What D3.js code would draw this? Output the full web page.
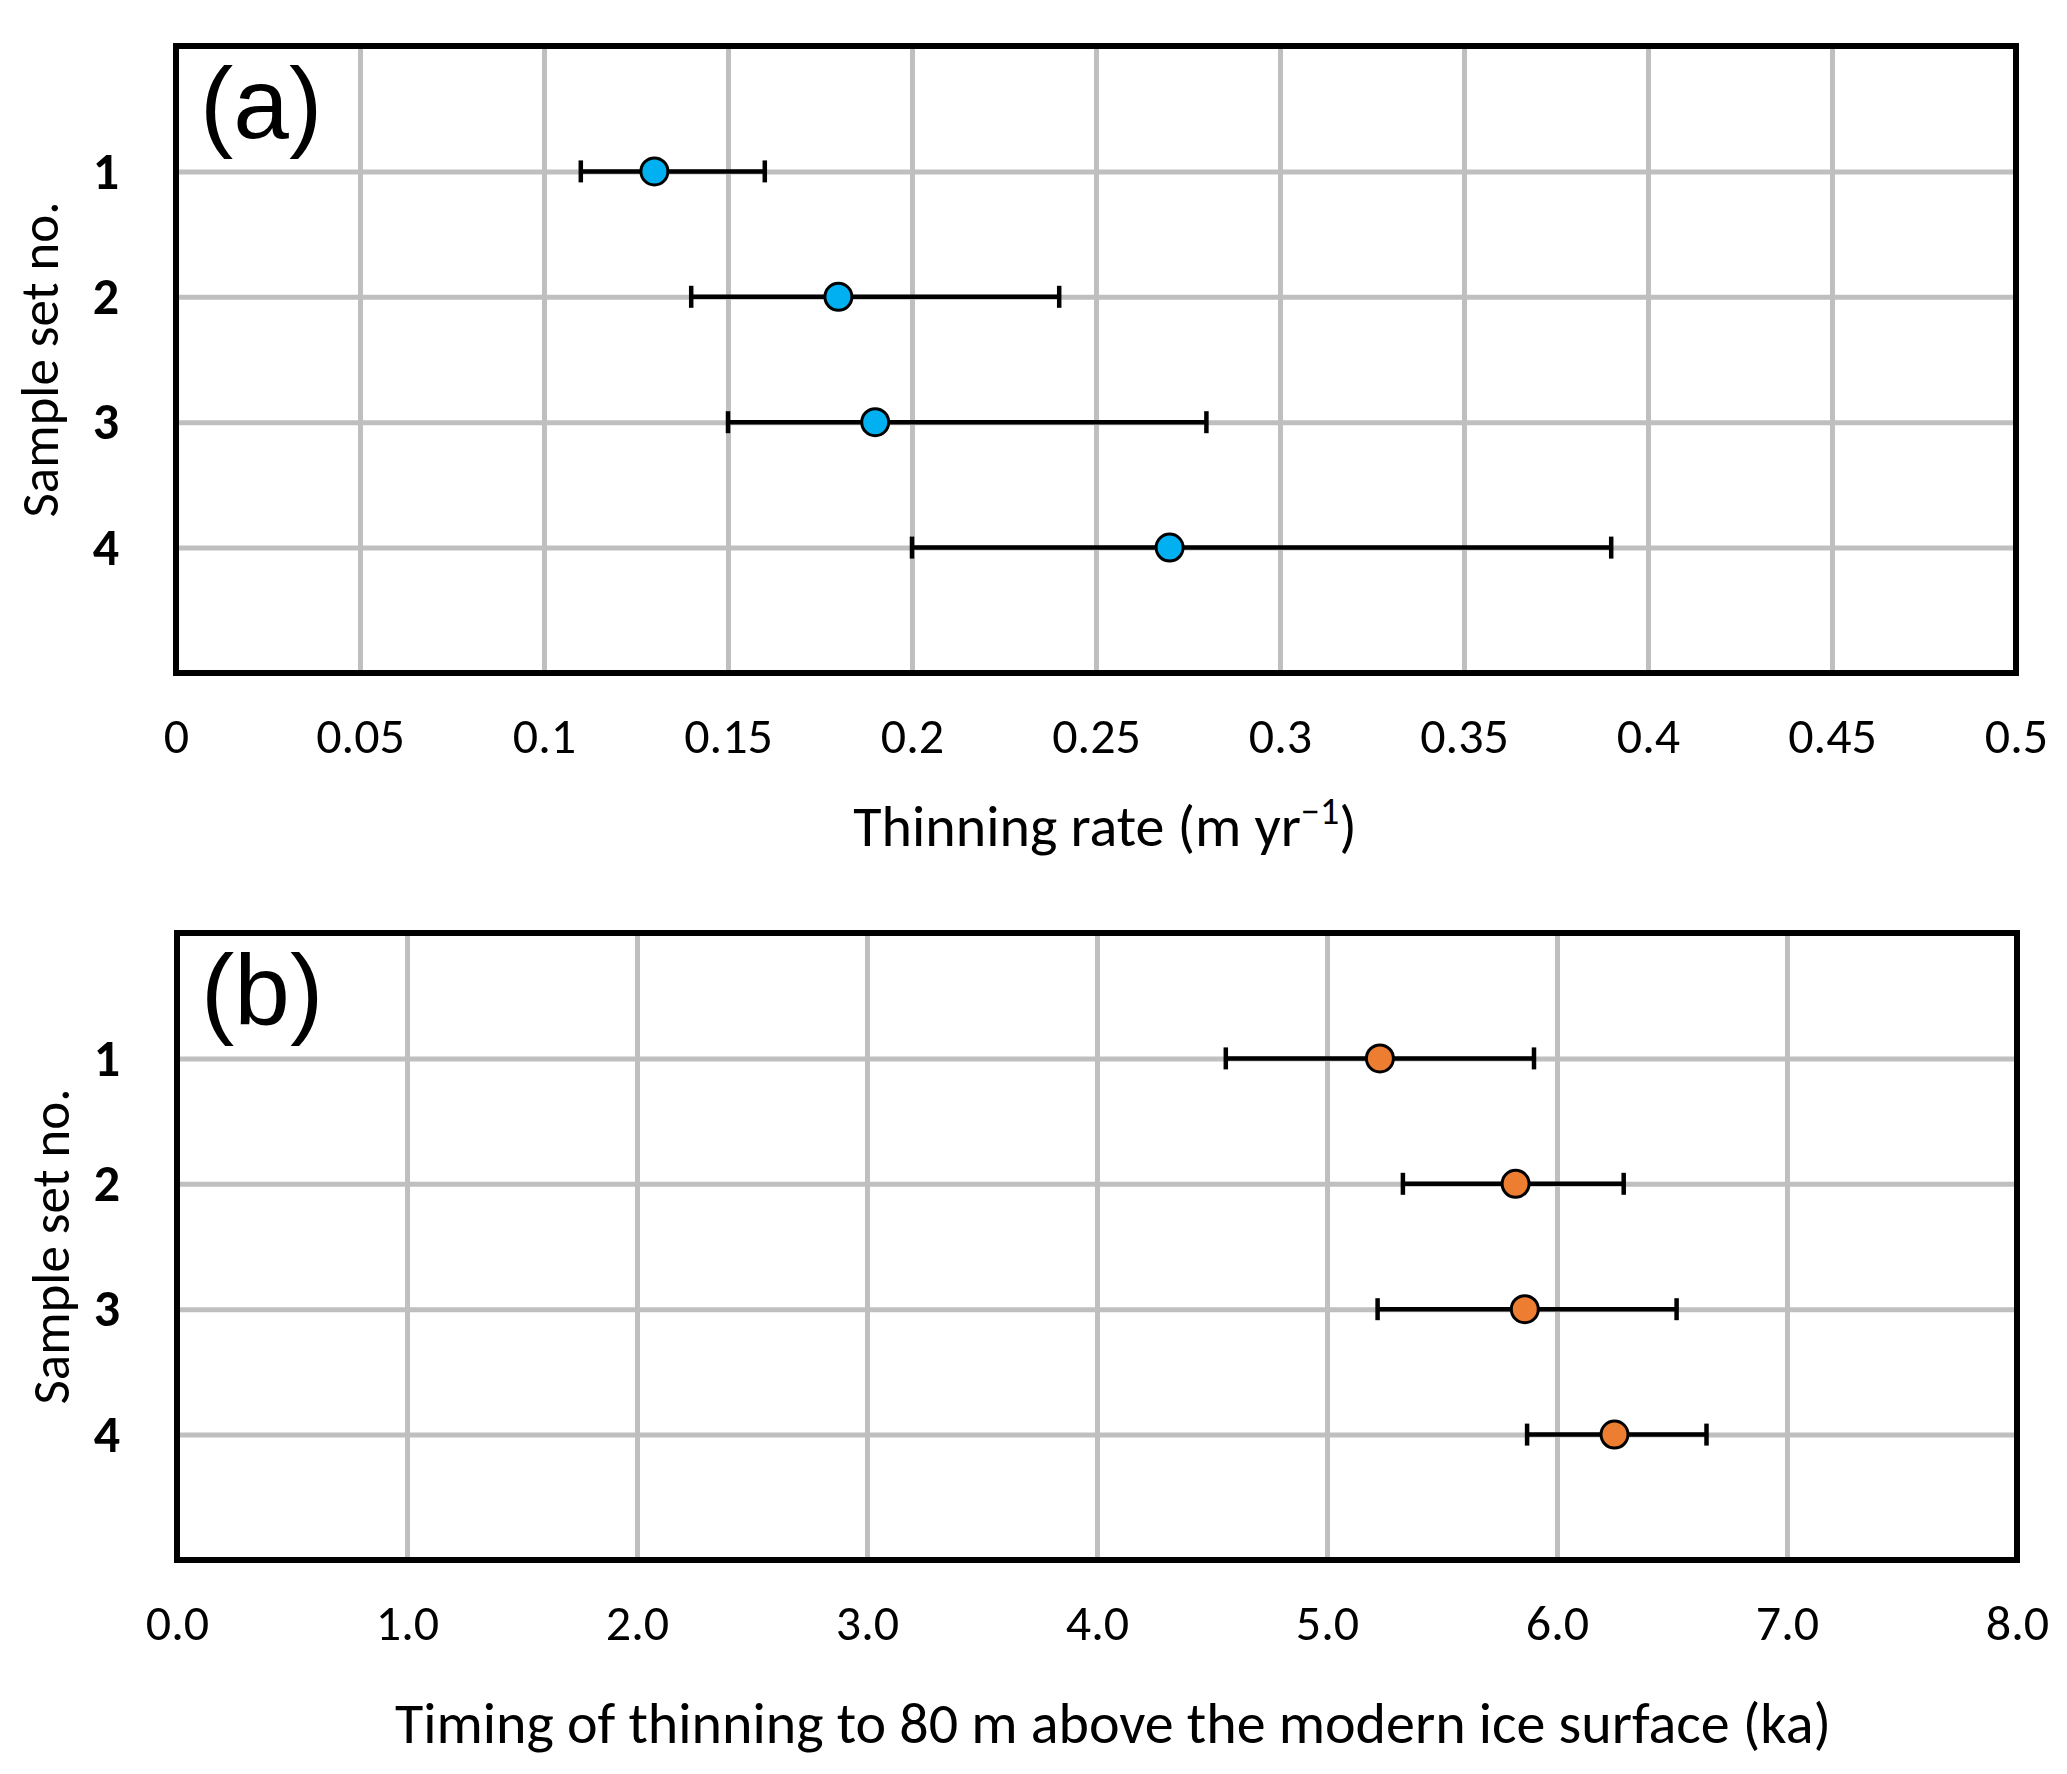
<!DOCTYPE html>
<html>
<head>
<meta charset="utf-8">
<script src="https://cdn.jsdelivr.net/npm/d3@7"></script>
<style>
  body { margin: 0; background: #fff; }
  svg text { font-family: Carlito, Calibri, Lato, sans-serif; fill: #000; }
</style>
</head>
<body>
<svg id="chart" width="2067" height="1774"></svg>
<script>
// sample sets, top to bottom
const sampleSets = [1, 2, 3, 4];

// (a) thinning rate (m/yr): point, lower and upper error bar ends
const rateValues = [0.13, 0.18, 0.19, 0.27];
const rateLow = [0.11, 0.14, 0.15, 0.20];
const rateHigh = [0.16, 0.24, 0.28, 0.39];
const rateTicks = [0, 0.05, 0.1, 0.15, 0.2, 0.25, 0.3, 0.35, 0.4, 0.45, 0.5];
const rateTickLabels = ["0", "0.05", "0.1", "0.15", "0.2", "0.25", "0.3", "0.35", "0.4", "0.45", "0.5"];

// (b) timing of thinning to 80 m above modern ice surface (ka)
const timingValues = [5.23, 5.82, 5.86, 6.25];
const timingLow = [4.56, 5.33, 5.22, 5.87];
const timingHigh = [5.90, 6.29, 6.52, 6.65];
const timingTicks = [0, 1, 2, 3, 4, 5, 6, 7, 8];
const timingTickLabels = ["0.0", "1.0", "2.0", "3.0", "4.0", "5.0", "6.0", "7.0", "8.0"];

const svg = d3.select("#chart");
svg.append("rect").attr("width", 2067).attr("height", 1774).attr("fill", "#fff");

function drawPanel(p) {
    const x = d3.scaleLinear().domain([p.ticks[0], p.ticks[p.ticks.length - 1]]).range([p.left, p.right]);
    const y = d3.scaleLinear().domain([0, 5]).range([p.top, p.bottom]);
    const h = p.bottom - p.top;
    const w = p.right - p.left;

    // vertical grid
    svg.append("g")
        .attr("transform", `translate(0,${p.bottom})`)
        .call(d3.axisBottom(x).tickValues(p.ticks.slice(1, -1)).tickSize(-h).tickFormat(""))
        .call(g => g.select(".domain").remove())
        .call(g => g.selectAll("line").attr("stroke", "#bfbfbf").attr("stroke-width", 5));

    // horizontal grid at each sample set
    svg.append("g")
        .attr("transform", `translate(${p.left},0)`)
        .call(d3.axisLeft(y).tickValues(sampleSets).tickSize(-w).tickFormat(""))
        .call(g => g.select(".domain").remove())
        .call(g => g.selectAll("line").attr("stroke", "#bfbfbf").attr("stroke-width", 5));

    // x tick labels
    svg.append("g")
        .attr("transform", `translate(0,${p.bottom})`)
        .call(d3.axisBottom(x).tickValues(p.ticks).tickSize(0).tickPadding(p.tickPad)
            .tickFormat((d, i) => p.tickLabels[i]))
        .call(g => g.select(".domain").remove())
        .call(g => g.selectAll("text").attr("font-size", 50).attr("font-family", null));

    // y tick labels (bold)
    svg.append("g")
        .attr("transform", `translate(${p.left},0)`)
        .call(d3.axisLeft(y).tickValues(sampleSets).tickSize(0).tickPadding(57).tickFormat(d3.format("d")))
        .call(g => g.select(".domain").remove())
        .call(g => g.selectAll("text").attr("font-size", 52).attr("font-weight", "bold").attr("font-family", null));

    // error bars
    const rows = sampleSets.map((s, i) => ({ s, v: p.values[i], lo: p.low[i], hi: p.high[i] }));
    const eb = svg.append("g").attr("stroke", "#000").attr("stroke-width", 4.5);
    eb.selectAll(".bar").data(rows).enter().append("line")
        .attr("x1", d => x(d.lo)).attr("x2", d => x(d.hi))
        .attr("y1", d => y(d.s)).attr("y2", d => y(d.s));
    eb.selectAll(".capl").data(rows).enter().append("line")
        .attr("x1", d => x(d.lo)).attr("x2", d => x(d.lo))
        .attr("y1", d => y(d.s) - 11).attr("y2", d => y(d.s) + 11);
    eb.selectAll(".caph").data(rows).enter().append("line")
        .attr("x1", d => x(d.hi)).attr("x2", d => x(d.hi))
        .attr("y1", d => y(d.s) - 11).attr("y2", d => y(d.s) + 11);

    // points
    svg.append("g").selectAll("circle").data(rows).enter().append("circle")
        .attr("cx", d => x(d.v)).attr("cy", d => y(d.s)).attr("r", 13.5)
        .attr("fill", p.color).attr("stroke", "#000").attr("stroke-width", 3);

    // frame
    svg.append("rect")
        .attr("x", p.left).attr("y", p.top).attr("width", w).attr("height", h)
        .attr("fill", "none").attr("stroke", "#000").attr("stroke-width", 6);

    // panel letter
    svg.append("text")
        .attr("x", p.left + 24).attr("y", p.top + 92)
        .style("font-family", "'Liberation Sans', Arial, sans-serif")
        .attr("font-size", 100)
        .text(p.letter);

    // y title
    svg.append("text")
        .attr("transform", `translate(${p.yTitleX},${(p.top + p.bottom) / 2}) rotate(-90)`)
        .attr("text-anchor", "middle")
        .attr("font-size", 53)
        .text("Sample set no.");

    // x title
    const t = svg.append("text")
        .attr("x", p.titleX).attr("y", p.bottom + p.titleOffset)
        .attr("text-anchor", "middle")
        .attr("font-size", 58);
    p.title(t);
}

drawPanel({
    top: 46, bottom: 673, left: 176, right: 2016,
    ticks: rateTicks, tickLabels: rateTickLabels, tickPad: 44,
    values: rateValues, low: rateLow, high: rateHigh,
    color: "#00b0f0", letter: "(a)", yTitleX: 58, titleOffset: 173, titleX: 1105,
    title: t => {
        t.append("tspan").text("Thinning rate (m yr");
        t.append("tspan").attr("font-size", 38).attr("dy", -22).text("\u22121");
        t.append("tspan").attr("dy", 22).text(")");
    }
});

drawPanel({
    top: 933, bottom: 1560, left: 177, right: 2017,
    ticks: timingTicks, tickLabels: timingTickLabels, tickPad: 44,
    values: timingValues, low: timingLow, high: timingHigh,
    color: "#ed7d31", letter: "(b)", yTitleX: 69, titleOffset: 183, titleX: 1113,
    title: t => t.text("Timing of thinning to 80 m above the modern ice surface (ka)")
});
</script>
</body>
</html>
